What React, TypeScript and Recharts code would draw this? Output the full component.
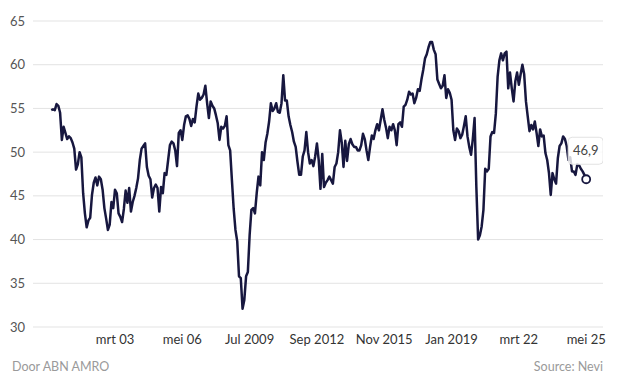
import { CartesianGrid, Line, LineChart, XAxis, YAxis } from "recharts"

// Nevi PMI, monthly, from March 2000 (month offset 2 counted from Jan 2000)
const y2000 = [54.8, 54.9, 54.8, 55.5, 55.3, 54.5, 51.4, 52.9, 52.2, 51.5]
const y2001 = [51.8, 51.6, 51.1, 50.4, 48.0, 48.6, 50.0, 49.4, 45.3, 43.0, 41.4, 42.2]
const y2002 = [42.5, 45.1, 46.5, 47.1, 46.2, 47.2, 46.9, 45.7, 43.6, 42.4, 41.1, 41.7]
const y2003 = [44.3, 43.6, 45.7, 45.3, 43.0, 42.6, 42.0, 43.5, 45.6, 44.2, 45.9, 43.2]
const y2004 = [44.3, 45.0, 45.9, 47.0, 49.1, 50.4, 50.7, 51.0, 48.3, 47.3, 46.9, 44.8]
const y2005 = [45.9, 46.3, 45.9, 43.2, 46.0, 45.3, 47.6, 47.4, 49.1, 50.8, 51.2, 51.0]
const y2006 = [50.2, 48.4, 52.2, 52.5, 51.4, 53.1, 54.1, 54.2, 53.8, 53.0, 53.8, 53.4]
const y2007 = [55.2, 56.7, 56.0, 56.2, 56.6, 57.6, 55.6, 53.9, 55.8, 55.3, 55.0, 54.2]
const y2008 = [53.3, 51.4, 52.9, 52.7, 53.0, 54.1, 50.8, 50.2, 46.8, 43.5, 41.1, 39.8]
const y2009 = [35.8, 35.6, 32.1, 33.1, 35.8, 36.3, 40.5, 43.4, 43.6, 43.0, 45.3, 47.2]
const y2010 = [46.2, 50.0, 49.1, 51.1, 52.1, 53.5, 55.6, 54.7, 55.0, 55.6, 54.6, 54.5]
const y2011 = [55.6, 58.8, 55.9, 55.9, 54.1, 53.1, 52.3, 51.2, 50.6, 48.9, 47.4, 47.4]
const y2012 = [49.5, 50.2, 52.3, 50.0, 48.7, 49.1, 48.4, 49.5, 51.0, 49.1, 45.8, 49.8]
const y2013 = [46.0, 46.5, 46.8, 47.2, 46.8, 46.4, 48.3, 48.7, 50.0, 52.5, 51.1, 48.3]
const y2014 = [51.3, 49.0, 50.9, 51.5, 50.9, 50.6, 50.6, 50.2, 50.2, 50.8, 52.1, 51.5]
const y2015 = [50.2, 49.1, 50.6, 51.9, 51.5, 52.5, 53.2, 52.5, 53.7, 54.9, 53.7, 52.8]
const y2016 = [51.6, 52.9, 52.5, 53.2, 52.5, 50.8, 53.2, 53.4, 52.9, 55.2, 55.4, 56.0]
const y2017 = [56.9, 56.6, 56.7, 55.6, 56.2, 57.2, 57.0, 58.3, 59.4, 60.7, 61.2, 62.0]
const y2018 = [62.6, 62.6, 61.7, 61.2, 58.3, 57.8, 57.3, 57.6, 58.8, 56.2, 57.2, 56.8]
const y2019 = [56.0, 52.5, 51.4, 52.7, 52.4, 51.6, 52.0, 53.0, 54.1, 51.8, 50.6, 49.7]
const y2020 = [51.5, 53.9, 46.0, 40.0, 40.5, 41.5, 43.4, 48.1, 47.8, 48.1, 51.8, 52.3]
const y2021 = [52.2, 54.4, 58.6, 60.5, 61.3, 60.5, 61.3, 61.5, 57.3, 59.1, 57.3, 55.8]
const y2022 = [58.1, 59.1, 57.7, 58.9, 60.0, 58.9, 55.8, 54.1, 52.4, 53.1, 52.6, 53.5]
const y2023 = [52.2, 50.7, 52.6, 51.8, 51.9, 49.9, 49.1, 47.6, 45.1, 47.6, 46.9, 46.4]
const y2024 = [49.3, 50.7, 51.0, 51.8, 51.5, 50.7, 49.1, 49.4, 47.8, 47.8, 47.4, 48.6]
const y2025 = [48.5, 48.1, 47.8, 47.4, 46.9]

const firstMonth = 2

const tickMonths = [38, 76, 114, 152, 190, 228, 266, 304]
const tickLabels = ["mrt 03", "mei 06", "Jul 2009", "Sep 2012", "Nov 2015", "Jan 2019", "mrt 22", "mei 25"]
const yTicks = [30, 35, 40, 45, 50, 55, 60, 65]

const values = [
  ...y2000, ...y2001, ...y2002, ...y2003, ...y2004, ...y2005, ...y2006,
  ...y2007, ...y2008, ...y2009, ...y2010, ...y2011, ...y2012, ...y2013,
  ...y2014, ...y2015, ...y2016, ...y2017, ...y2018, ...y2019, ...y2020,
  ...y2021, ...y2022, ...y2023, ...y2024, ...y2025,
]
const data = values.map((v, i) => ({ m: i + firstMonth, v }))

const font = "Lato, 'Open Sans', sans-serif"

function LastDot(props: any) {
  const { cx, cy, index, value } = props
  if (index !== data.length - 1) return <g key={index} />
  return (
    <g key={index}>
      <rect x={cx - 18} y={cy - 42} width={35} height={27} rx={4} fill="rgba(255,255,255,0.8)" stroke="#e2e2e2" />
      <text x={cx - 0.5} y={cy - 24} textAnchor="middle" fontSize={13} fill="#444" fontFamily={font}>
        {String(value).replace(".", ",")}
      </text>
      <circle cx={cx} cy={cy} r={4} fill="#fff" stroke="#17173f" strokeWidth={1.8} />
    </g>
  )
}

export default function App() {
  return (
    <div style={{ position: "absolute", left: 0, top: 0, width: 625, height: 386, background: "#fff", fontFamily: font }}>
      <LineChart width={625} height={386} data={data} margin={{ top: 21, right: 22, left: 0, bottom: 29 }}>
        <CartesianGrid vertical={false} stroke="#e3e3e3" />
        <XAxis
          dataKey="m"
          type="number"
          domain={[-8.3, 313.5]}
          allowDataOverflow
          ticks={tickMonths}
          tickFormatter={(m) => tickLabels[tickMonths.indexOf(m)]}
          tickLine={false}
          axisLine={false}
          height={30}
          tick={{ fontSize: 13, fill: "#333", fontFamily: font }}
        />
        <YAxis
          domain={[30, 65]}
          ticks={yTicks}
          width={33}
          tickLine={false}
          axisLine={false}
          tick={{ fontSize: 13, fill: "#555", fontFamily: font }}
        />
        <Line
          type="linear"
          dataKey="v"
          stroke="#17173f"
          strokeWidth={2.5}
          strokeLinejoin="round"
          dot={LastDot}
          activeDot={false}
          isAnimationActive={false}
        />
      </LineChart>
      <div style={{ position: "absolute", left: 12, top: 359, fontSize: 12.5, color: "#9a9a9a" }}>Door ABN AMRO</div>
      <div style={{ position: "absolute", right: 22, top: 359, fontSize: 12.5, color: "#9a9a9a" }}>Source: Nevi</div>
    </div>
  )
}
